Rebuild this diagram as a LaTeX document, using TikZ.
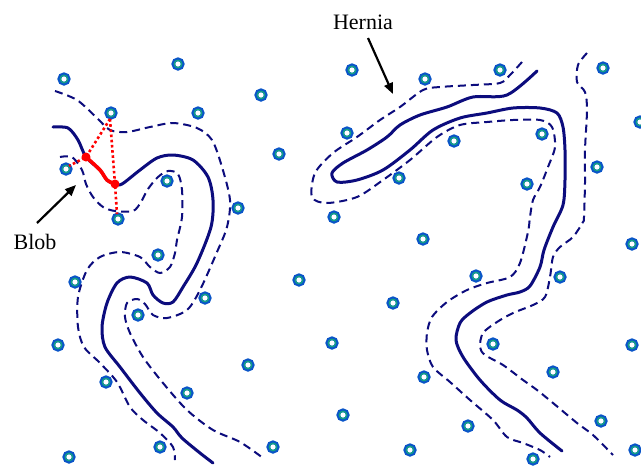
\documentclass[tikz,border=0pt]{standalone}
\usepackage{fontspec}
\setmainfont{Liberation Serif}
\usetikzlibrary{arrows.meta}
\definecolor{navy}{RGB}{12,12,125}
\definecolor{ringblue}{RGB}{10,85,200}
\definecolor{ringteal}{RGB}{20,165,130}
\tikzset{
  solidcurve/.style={navy,line width=3pt,line cap=round,line join=round},
  dashcurve/.style={navy,line width=2pt,dash pattern=on 8pt off 5pt},
  ring/.style={ringblue,line width=3.6pt},
  reddot/.style={red,line width=2.6pt,dash pattern=on 2.6pt off 2.6pt},
  pointer/.style={black,line width=2.2pt,-{Triangle[length=11pt,width=9pt]}},
  lbl/.style={font=\fontsize{22}{24}\selectfont,inner sep=0pt}
}
\begin{document}
\begin{tikzpicture}[x=1pt,y=-1pt]
\useasboundingbox (0,0) rectangle (641,467);
\fill[white] (0,0) rectangle (641,467);

% ---- left structure ----
\draw[solidcurve] plot[smooth,tension=0.5] coordinates {(53,127) (68,128) (78,140) (86,157) (100,170) (107,180) (115,184) (122,184) (140,170) (157,158) (173,155) (193,160) (208,177) (213,200) (211,227) (197,263) (183,287) (173,302) (163,303) (153,295) (147,283) (130,277) (117,283) (107,303) (102,327) (105,347) (120,367) (140,393) (157,413) (173,427) (182,438) (200,453) (213,463)};

\draw[dashcurve] plot[smooth,tension=0.5] coordinates {(55,91) (77,100) (97,118) (110,130) (127,132) (150,127) (173,123) (197,128) (212,140) (222,167) (230,200) (227,227) (217,252) (200,290) (187,310) (167,318) (153,315) (145,304) (137,299) (127,303) (125,317) (130,333) (143,357) (163,383) (187,410) (213,430) (240,442) (263,458)};

\draw[dashcurve] plot[smooth,tension=0.5] coordinates {(60,157) (72,157) (82,170) (86,184) (93,197) (103,207) (115,211) (133,211) (141,202) (148,189) (158,177) (168,171) (178,174) (182,190) (182,217) (177,240) (175,253) (170,267) (160,273) (150,267) (140,257) (120,252) (100,257) (87,270) (78,297) (78,327) (84,347) (100,363) (117,382) (130,407) (143,420) (160,433) (173,447) (175,460)};

% ---- right structure ----
\draw[solidcurve] plot[smooth,tension=0.5] coordinates {(537,71) (507,95) (473,97) (447,107) (420,115) (400,125) (387,137) (367,150) (343,163) (332,173) (337,182) (357,180) (383,170) (410,150) (433,130) (460,118) (487,113) (513,108) (540,108) (557,113) (563,127) (565,150) (565,180) (563,205) (553,227) (544,250) (540,267) (530,286) (520,292) (507,295) (487,302) (470,313) (460,323) (456,340) (463,357) (480,380) (500,400) (517,410) (527,418) (540,433) (562,451)};

\draw[dashcurve] plot[smooth,tension=0.5] coordinates {(522,62) (510,75) (500,83) (473,85) (440,87) (423,90) (400,107) (380,120) (357,137) (333,153) (315,173) (312,197) (327,203) (357,197) (383,180) (410,160) (437,137) (460,125) (487,122) (513,120) (540,120) (552,127) (555,147) (548,167) (540,187) (533,200) (530,217) (528,232) (520,263) (510,277) (487,283) (467,290) (447,302) (432,317) (427,333) (427,350) (433,367) (450,382) (470,400) (493,420) (507,437) (523,443) (540,450) (550,457)};

\draw[dashcurve] plot[smooth,tension=0.5] coordinates {(587,53) (578,65) (577,82) (585,92) (587,110) (585,150) (585,183) (584,217) (583,222) (573,237) (560,247) (553,257) (550,277) (545,297) (533,305) (513,313) (497,322) (483,333) (480,347) (485,355) (503,365) (523,380) (537,390) (553,403) (577,423) (593,435) (613,455)};

% ---- rings ----
\foreach \x/\y [count=\i] in {
  64/79, 178/64, 111/113, 198/113, 261/95, 66/169, 167/181, 279/154, 238/208, 118/219,
  158/255, 75/282, 205/298, 138/315, 299/280, 58/345, 106/382, 248/365, 187/393, 160/447,
  69/457, 273/447,
  352/70, 425/79, 500/70, 603/68, 347/133, 454/141, 542/134, 640/122, 399/178, 597/167,
  527/184, 334/217, 423/239, 632/244, 476/276, 560/277, 393/303, 332/343, 493/344, 632/345,
  553/372, 424/377, 343/415, 601/421, 468/426, 410/450, 533/459, 635/450}
{
  \draw[ring] (\x,\y) circle (4.8pt);
  \draw[ringteal,line width=1.3pt] (\x,\y) circle (3.7pt);
}

% ---- blob (red) ----
\coordinate (p1) at (86,157);
\coordinate (p2) at (115,184);
\coordinate (c3) at (110,119);
\coordinate (c6) at (69,166);
\coordinate (c10) at (117,214);
\draw[reddot] (c3) -- (p1) -- (c6);
\draw[reddot] (c3) -- (p2) -- (c10);
\draw[red,line width=3.6pt,line cap=round] plot[smooth,tension=0.5] coordinates {(86,157) (100,170) (107,180) (115,184)};
\fill[red] (p1) circle (4.5pt);
\fill[red] (p2) circle (4.5pt);

% ---- labels ----
\node[lbl] (blob) at (35,242) {Blob};
\node[lbl] (hernia) at (363,22) {Hernia};
\coordinate (blobtip) at (76,185);
\coordinate (herniatip) at (393,94);
\draw[pointer] (37,223) -- (blobtip);
\draw[pointer] (368,38) -- (herniatip);
\end{tikzpicture}
\end{document}
